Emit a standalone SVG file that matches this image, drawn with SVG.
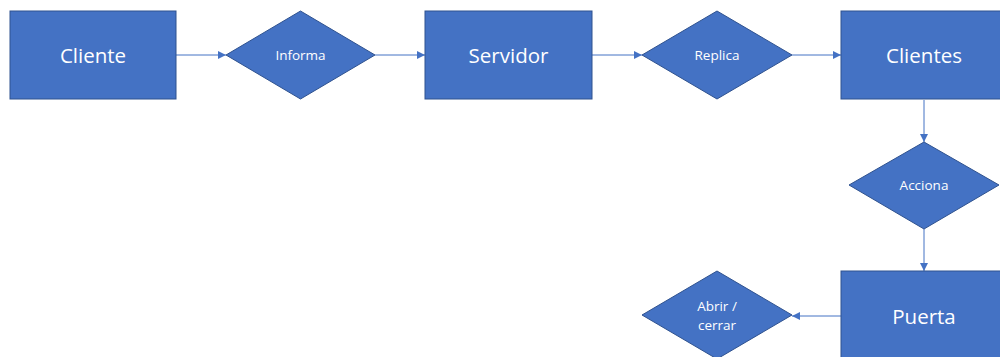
<svg xmlns="http://www.w3.org/2000/svg" width="1000" height="357" viewBox="0 0 1000 357">
<style>
.n{fill:#4472C4;stroke:#2F528F;stroke-width:1}
.big{font-family:"Open Sans","Liberation Sans",Arial,sans-serif;font-size:20.5px;fill:#fff;text-anchor:middle;dominant-baseline:central}
.sm{font-family:"Open Sans","Liberation Sans",Arial,sans-serif;font-size:13.5px;fill:#fff;text-anchor:middle;dominant-baseline:central}
.c{stroke:#4472C4;stroke-width:1;fill:none;marker-end:url(#ah)}
</style>
<defs>
<marker id="ah" viewBox="0 0 10 10" refX="10" refY="5" markerWidth="8" markerHeight="8" markerUnits="userSpaceOnUse" orient="auto">
<path d="M0,0 L10,5 L0,10 z" fill="#4472C4"/>
</marker>
</defs>
<g id="connectors">
<line class="c" x1="176" y1="55" x2="226" y2="55"/>
<line class="c" x1="375" y1="55" x2="425" y2="55"/>
<line class="c" x1="792" y1="55" x2="841" y2="55"/>
<line class="c" x1="592" y1="55" x2="642" y2="55"/>
<line class="c" x1="924" y1="100" x2="924" y2="142"/>
<line class="c" x1="924" y1="229" x2="924" y2="271"/>
<line class="c" x1="841" y1="316" x2="792" y2="316"/>
</g>
<g id="cliente"><rect class="n" x="10" y="11" width="166" height="88"/><text class="big" x="93" y="55">Cliente</text></g>
<g id="informa"><polygon class="n" points="226,55 300.5,11 375,55 300.5,99"/><text class="sm" x="300.5" y="55">Informa</text></g>
<g id="servidor"><rect class="n" x="425" y="11" width="167" height="88"/><text class="big" x="508.5" y="55">Servidor</text></g>
<g id="replica"><polygon class="n" points="642,55 717,11 792,55 717,99"/><text class="sm" x="717" y="55">Replica</text></g>
<g id="clientes"><rect class="n" x="841" y="11" width="166" height="88"/><text class="big" x="924" y="55">Clientes</text></g>
<g id="acciona"><polygon class="n" points="849,185 924,142 999,185 924,229"/><text class="sm" x="924" y="185">Acciona</text></g>
<g id="puerta"><rect class="n" x="841" y="271" width="166" height="90"/><text class="big" x="924" y="316">Puerta</text></g>
<g id="abrir"><polygon class="n" points="642,315 717,271 792,315 717,359"/><text class="sm" x="717" y="306">Abrir /</text><text class="sm" x="717" y="325">cerrar</text></g>
</svg>
